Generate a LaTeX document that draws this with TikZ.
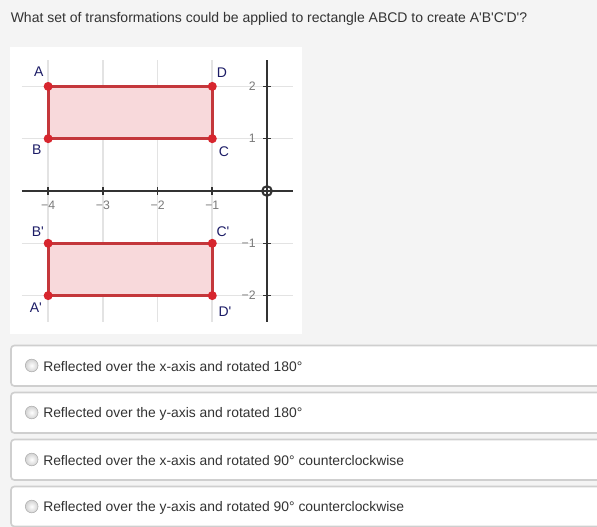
\documentclass[tikz,border=0pt]{standalone}
\usepackage{fontspec}
\setmainfont{Liberation Sans}[Ligatures=TeXOff]
\definecolor{pagebg}{HTML}{F4F4F4}
\definecolor{gridgray}{HTML}{E3E3E3}
\definecolor{axisgray}{HTML}{333333}
\definecolor{tickgray}{HTML}{7A7A7A}
\definecolor{ptred}{HTML}{D7262E}
\definecolor{edgered}{HTML}{C4373B}
\definecolor{fillpink}{HTML}{F8D9DB}
\definecolor{lblblue}{HTML}{1C1C66}
\definecolor{boxgray}{HTML}{CFCFCF}
\definecolor{textgray}{HTML}{333333}
\tikzset{
  pt/.style={circle, fill=ptred, inner sep=0pt, minimum size=6.75pt},
  ptlabel/.style={text=lblblue, inner sep=0pt, font=\fontsize{10.5}{12}\selectfont},
  ticklabel/.style={text=tickgray, inner sep=0pt, font=\fontsize{9.2}{11}\selectfont},
  choicebox/.style={draw=boxgray, line width=1.2pt, fill=white, rounded corners=2.5pt},
  radio/.style={circle, draw=gray!65, inner sep=0pt, minimum size=9.5pt, inner color=white, outer color=gray!35},
  choicetext/.style={anchor=west, text=textgray, inner sep=0pt, font=\fontsize{10.4}{12}\selectfont},
}
\begin{document}
\begin{tikzpicture}[x=0.75pt, y=-0.75pt]
  % page and panel
  \fill[pagebg] (0,0) rectangle (597,527);
  \useasboundingbox (0,0) rectangle (597,527);
  \node[anchor=west, text=textgray, inner sep=0pt, font=\fontsize{10.5}{12}\selectfont] (question) at (10.5,19)
    {What set of transformations could be applied to rectangle ABCD to create A'B'C'D'?};
  \fill[white] (10,47) rectangle (302,334);

  % coordinate plane
  \begin{scope}[shift={(267,191)}, x=41.03pt, y=39.23pt]
    \draw[gridgray, line width=1.2pt] (-4,-2.5) -- (-4,2.5);
    \draw[gridgray, line width=1.2pt] (-3,-2.5) -- (-3,2.5);
    \draw[gridgray, line width=1.2pt] (-2,-2.5) -- (-2,2.5);
    \draw[gridgray, line width=1.2pt] (-1,-2.5) -- (-1,2.5);
    \draw[gridgray, line width=1.2pt] (-4.48,2) -- (0.48,2);
    \draw[gridgray, line width=1.2pt] (-4.48,1) -- (0.48,1);
    \draw[gridgray, line width=1.2pt] (-4.48,-1) -- (0.48,-1);
    \draw[gridgray, line width=1.2pt] (-4.48,-2) -- (0.48,-2);

    \draw[axisgray, line width=1.5pt] (-4.48,0) -- (0.48,0);
    \draw[axisgray, line width=1.5pt] (0,-2.5) -- (0,2.5);
    \draw[axisgray, line width=1.5pt] (0,0) circle (3.6pt);

    \draw[axisgray, line width=1.2pt] (-4,0) ++(0,-3pt) -- ++(0,6pt);
    \draw[axisgray, line width=1.2pt] (-3,0) ++(0,-3pt) -- ++(0,6pt);
    \draw[axisgray, line width=1.2pt] (-2,0) ++(0,-3pt) -- ++(0,6pt);
    \draw[axisgray, line width=1.2pt] (-1,0) ++(0,-3pt) -- ++(0,6pt);
    \draw[axisgray, line width=1.2pt] (0,2) ++(-3pt,0) -- ++(6pt,0);
    \draw[axisgray, line width=1.2pt] (0,1) ++(-3pt,0) -- ++(6pt,0);
    \draw[axisgray, line width=1.2pt] (0,-1) ++(-3pt,0) -- ++(6pt,0);
    \draw[axisgray, line width=1.2pt] (0,-2) ++(-3pt,0) -- ++(6pt,0);

    \node[ticklabel] (xm4) at ([yshift=-10.5pt]-4,0) {−4};
    \node[ticklabel] (xm3) at ([yshift=-10.5pt]-3,0) {−3};
    \node[ticklabel] (xm2) at ([yshift=-10.5pt]-2,0) {−2};
    \node[ticklabel] (xm1) at ([yshift=-10.5pt]-1,0) {−1};
    \node[ticklabel, anchor=east] (y2) at ([xshift=-8.25pt]0,2) {2};
    \node[ticklabel, anchor=east] (y1) at ([xshift=-8.25pt]0,1) {1};
    \node[ticklabel, anchor=east] (ym1) at ([xshift=-8.25pt]0,-1) {−1};
    \node[ticklabel, anchor=east] (ym2) at ([xshift=-8.25pt]0,-2) {−2};

    % rectangle ABCD
    \draw[edgered, fill=fillpink, line width=2.2pt] (-4,2) rectangle (-1,1);
    \node[pt] (A) at (-4,2) {};
    \node[pt] (D) at (-1,2) {};
    \node[pt] (B) at (-4,1) {};
    \node[pt] (C) at (-1,1) {};
    \node[ptlabel] (lA) at ([shift={(-7pt,11pt)}]A) {A};
    \node[ptlabel] (lD) at ([shift={(7.3pt,10.3pt)}]D) {D};
    \node[ptlabel] (lB) at ([shift={(-8.5pt,-8.5pt)}]B) {B};
    \node[ptlabel] (lC) at ([shift={(8.8pt,-10pt)}]C) {C};

    % rectangle A'B'C'D'
    \draw[edgered, fill=fillpink, line width=2.2pt] (-4,-1) rectangle (-1,-2);
    \node[pt] (B') at (-4,-1) {};
    \node[pt] (C') at (-1,-1) {};
    \node[pt] (A') at (-4,-2) {};
    \node[pt] (D') at (-1,-2) {};
    \node[ptlabel] (lB') at ([shift={(-7.7pt,8.7pt)}]B') {B'};
    \node[ptlabel] (lC') at ([shift={(8pt,8.7pt)}]C') {C'};
    \node[ptlabel] (lA') at ([shift={(-9.2pt,-9pt)}]A') {A'};
    \node[ptlabel] (lD') at ([shift={(9.5pt,-12pt)}]D') {D'};
  \end{scope}

  % answer choices
  \draw[choicebox] (11,345.5) rectangle (610,386);
  \draw[choicebox] (11,392.5) rectangle (610,433);
  \draw[choicebox] (11,439.5) rectangle (610,480);
  \draw[choicebox] (11,486.5) rectangle (610,526.5);
  \node[radio] (r1) at (31.7,365.5) {};
  \node[radio] (r2) at (31.7,412.5) {};
  \node[radio] (r3) at (31.7,459.5) {};
  \node[radio] (r4) at (31.7,506.5) {};
  \node[choicetext] (c1) at (43,366.5) {Reflected over the x-axis and rotated 180°};
  \node[choicetext] (c2) at (43,413.5) {Reflected over the y-axis and rotated 180°};
  \node[choicetext] (c3) at (43,460.5) {Reflected over the x-axis and rotated 90° counterclockwise};
  \node[choicetext] (c4) at (43,507.5) {Reflected over the y-axis and rotated 90° counterclockwise};
\end{tikzpicture}
\end{document}
